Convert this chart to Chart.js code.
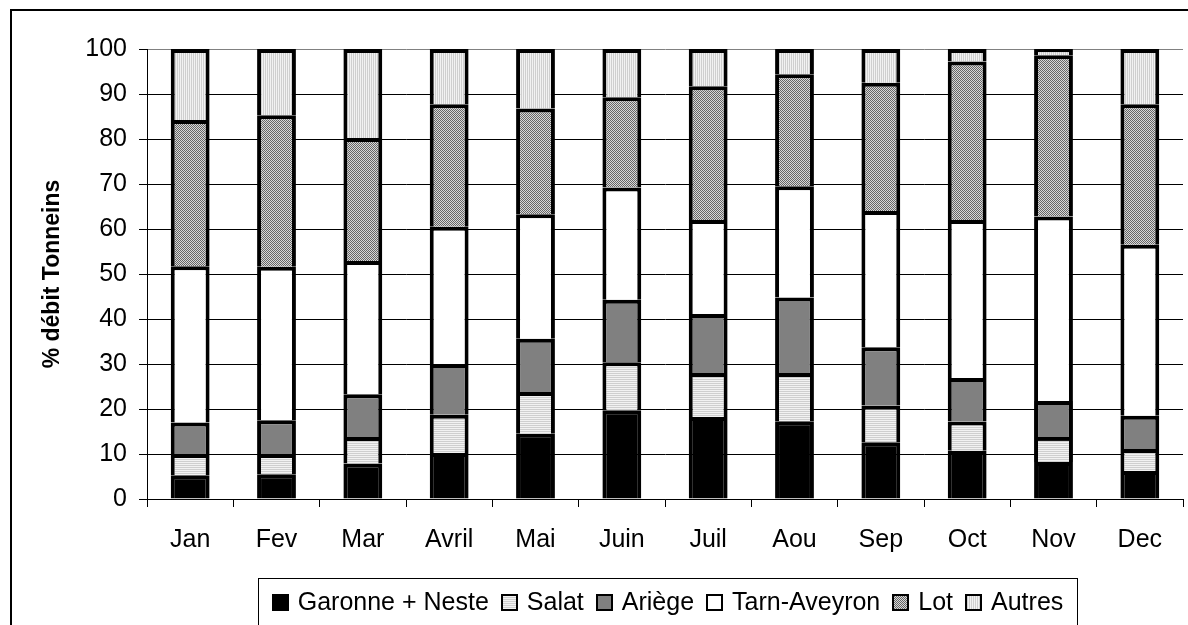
<!DOCTYPE html>
<html>
<head>
<meta charset="utf-8">
<script src="https://cdn.jsdelivr.net/npm/chart.js@4/dist/chart.umd.min.js"></script>
<style>
  html, body { margin: 0; padding: 0; background: #fff; }
  #wrap { width: 1188px; height: 625px; position: relative; overflow: hidden; }
</style>
</head>
<body>
<div id="wrap"><canvas id="c" width="1188" height="625"></canvas></div>
<script>
// Monthly share of the Tonneins discharge by contributing basin (%)
const months = ['Jan', 'Fev', 'Mar', 'Avril', 'Mai', 'Juin', 'Juil', 'Aou', 'Sep', 'Oct', 'Nov', 'Dec'];
const garonneNeste = [5.3, 5.5, 7.9, 10.2, 14.5, 19.7, 18.2, 17.3, 12.6, 10.7, 8.2, 6.2];
const salat        = [4.7, 4.5, 5.9, 8.5, 9.3, 10.7, 9.8, 10.7, 8.2, 6.5, 5.6, 4.9];
const ariege       = [7.0, 7.5, 9.5, 11.3, 11.8, 13.9, 13.1, 16.8, 12.9, 9.7, 8.0, 7.4];
const tarnAveyron  = [34.7, 34.1, 29.6, 30.5, 27.7, 24.9, 20.9, 24.7, 30.3, 35.1, 41.0, 38.0];
const lot          = [32.5, 33.7, 27.3, 27.2, 23.5, 20.1, 29.7, 24.9, 28.5, 35.2, 35.8, 31.2];
const autres       = [15.8, 14.7, 19.8, 12.3, 13.2, 10.7, 8.3, 5.6, 7.5, 2.8, 1.4, 12.3];
const seriesNames  = ['Garonne + Neste', 'Salat', 'Ariège', 'Tarn-Aveyron', 'Lot', 'Autres'];
const yTicks = [0, 10, 20, 30, 40, 50, 60, 70, 80, 90, 100];

const FONT = '"Liberation Sans", Arial, sans-serif';

// small tiled fills
function makePattern(w, h, paint) {
  const t = document.createElement('canvas');
  t.width = w; t.height = h;
  const g = t.getContext('2d');
  paint(g);
  return document.getElementById('c').getContext('2d').createPattern(t, 'repeat');
}
const hStripes = makePattern(2, 2, g => {
  g.fillStyle = '#f2f2f2'; g.fillRect(0, 0, 2, 2);
  g.fillStyle = '#cfcfcf'; g.fillRect(0, 1, 2, 1);
});
const vStripes = makePattern(2, 2, g => {
  g.fillStyle = '#f2f2f2'; g.fillRect(0, 0, 2, 2);
  g.fillStyle = '#cfcfcf'; g.fillRect(1, 0, 1, 2);
});
const checker = makePattern(2, 2, g => {
  g.fillStyle = '#d8d8d8'; g.fillRect(0, 0, 2, 2);
  g.fillStyle = '#666666'; g.fillRect(0, 0, 1, 1); g.fillRect(1, 1, 1, 1);
});

const fills = ['#000000', hStripes, '#808080', '#ffffff', checker, vStripes];
const values = [garonneNeste, salat, ariege, tarnAveyron, lot, autres];

const datasets = seriesNames.map((name, i) => ({
  label: name,
  data: values[i],
  backgroundColor: fills[i],
  borderColor: '#000',
  borderWidth: 4,
  borderSkipped: 'start',
  inflateAmount: 0,
  barPercentage: 0.45,
  categoryPercentage: 1
}));

// outer frame of the figure
const framePlugin = {
  id: 'frame',
  beforeDraw(chart) {
    const ctx = chart.ctx;
    ctx.save();
    ctx.fillStyle = '#fff';
    ctx.fillRect(0, 0, chart.width, chart.height);
    ctx.strokeStyle = '#000';
    ctx.lineWidth = 2;
    ctx.strokeRect(11, 10, 2000, 2000);
    ctx.restore();
  }
};

// boxed legend row under the plot
const boxLegend = {
  id: 'boxLegend',
  afterDraw(chart) {
    const ctx = chart.ctx;
    const boxL = 258, boxR = 1077, boxT = 578;
    const sq = 17, gapIn = 9, gapOut = 12;
    ctx.save();
    ctx.font = '25px ' + FONT;
    let total = 0;
    chart.data.datasets.forEach((ds, i) => {
      total += sq + gapIn + ctx.measureText(ds.label).width;
      if (i < chart.data.datasets.length - 1) total += gapOut;
    });
    ctx.strokeStyle = '#000';
    ctx.lineWidth = 1;
    ctx.strokeRect(boxL + 0.5, boxT + 0.5, boxR - boxL, 200);
    let x = (boxL + boxR) / 2 - total / 2;
    const cy = 602;
    ctx.textBaseline = 'middle';
    ctx.textAlign = 'left';
    chart.data.datasets.forEach((ds) => {
      ctx.fillStyle = ds.backgroundColor;
      ctx.fillRect(Math.round(x), cy - 8, sq, sq);
      ctx.strokeStyle = '#000';
      ctx.lineWidth = 2;
      ctx.strokeRect(Math.round(x) + 1, cy - 7, sq - 2, sq - 2);
      x += sq + gapIn;
      ctx.fillStyle = '#000';
      ctx.fillText(ds.label, x, cy + 1);
      x += ctx.measureText(ds.label).width + gapOut;
    });
    ctx.restore();
  }
};

new Chart(document.getElementById('c'), {
  type: 'bar',
  data: { labels: months, datasets },
  plugins: [framePlugin, boxLegend],
  options: {
    responsive: false,
    animation: false,
    devicePixelRatio: 1,
    layout: { padding: { top: 49, left: 0, right: 5, bottom: 0 } },
    plugins: {
      legend: { display: false },
      tooltip: { enabled: false }
    },
    scales: {
      x: {
        stacked: true,
        offset: true,
        grid: {
          display: true,
          drawOnChartArea: false,
          drawTicks: true,
          tickLength: 8,
          tickColor: '#000',
          offset: true
        },
        border: { display: true, color: '#000', width: 1 },
        ticks: {
          color: '#000',
          font: { family: FONT, size: 25 },
          padding: 18,
          maxRotation: 0,
          autoSkip: false
        },
        afterFit(scale) { scale.height = 126; }
      },
      y: {
        stacked: true,
        min: 0,
        max: 100,
        afterBuildTicks(scale) { scale.ticks = yTicks.map(v => ({ value: v })); },
        grid: {
          color: ctx => (ctx.tick && ctx.tick.value === 100) ? '#808080' : '#000',
          lineWidth: 1,
          drawTicks: true,
          tickLength: 8,
          tickColor: '#000'
        },
        border: { display: true, color: '#000', width: 1 },
        ticks: {
          color: '#000',
          font: { family: FONT, size: 25 },
          padding: 12
        },
        title: {
          display: true,
          text: '% débit Tonneins',
          color: '#000',
          font: { family: FONT, size: 23, weight: 'bold' },
          padding: { top: 39, bottom: 0 }
        },
        afterFit(scale) { scale.width = 147; }
      }
    }
  }
});
</script>
</body>
</html>
